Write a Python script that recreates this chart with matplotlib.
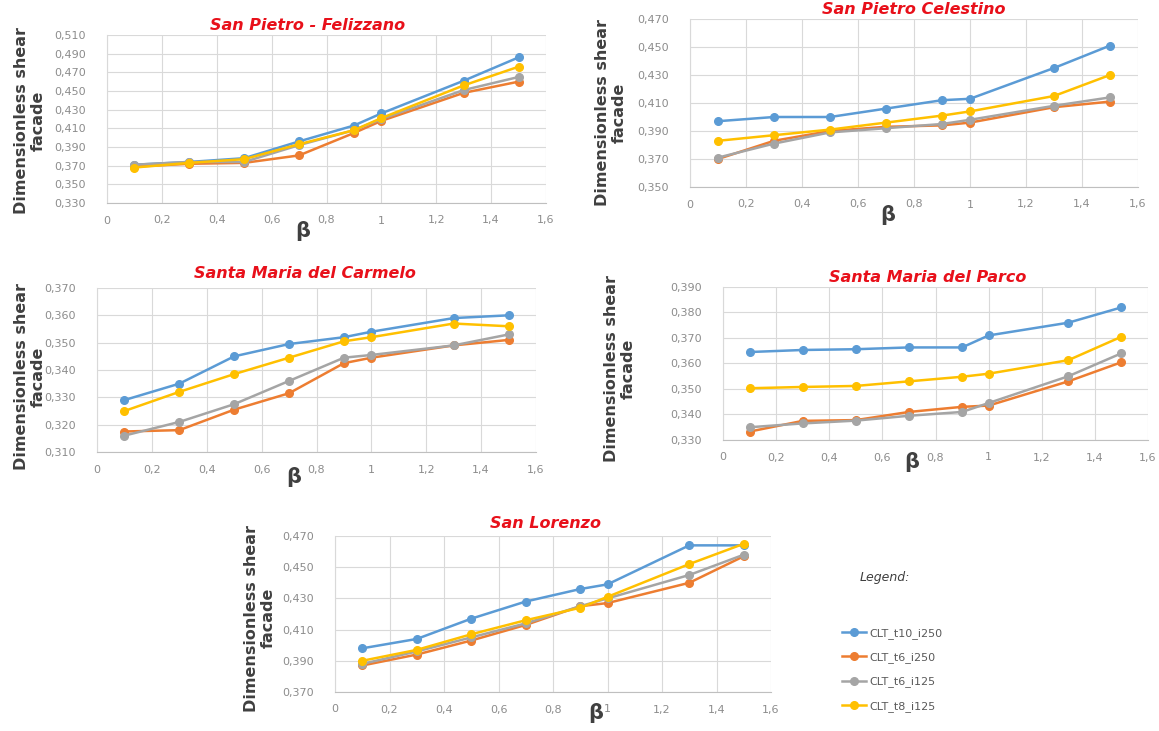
import matplotlib
matplotlib.use("Agg")
import matplotlib.pyplot as plt
import numpy as np
from matplotlib.ticker import FuncFormatter, MultipleLocator

beta = [0.1, 0.3, 0.5, 0.7, 0.9, 1.0, 1.3, 1.5]
series_names = ["CLT_t10_i250", "CLT_t6_i250", "CLT_t6_i125", "CLT_t8_i125"]
colors = ["#5B9BD5", "#ED7D31", "#A5A5A5", "#FFC000"]

# San Pietro - Felizzano
felizzano_t10_i250 = [0.371, 0.374, 0.378, 0.396, 0.413, 0.426, 0.461, 0.486]
felizzano_t6_i250 = [0.369, 0.372, 0.373, 0.381, 0.405, 0.418, 0.448, 0.460]
felizzano_t6_i125 = [0.371, 0.374, 0.374, 0.392, 0.408, 0.420, 0.451, 0.465]
felizzano_t8_i125 = [0.368, 0.373, 0.377, 0.393, 0.408, 0.421, 0.456, 0.476]

# San Pietro Celestino
celestino_t10_i250 = [0.397, 0.400, 0.400, 0.406, 0.412, 0.413, 0.435, 0.451]
celestino_t6_i250 = [0.370, 0.383, 0.390, 0.393, 0.394, 0.396, 0.407, 0.411]
celestino_t6_i125 = [0.371, 0.381, 0.389, 0.392, 0.395, 0.398, 0.408, 0.414]
celestino_t8_i125 = [0.383, 0.387, 0.391, 0.396, 0.401, 0.404, 0.415, 0.430]

# Santa Maria del Carmelo
carmelo_t10_i250 = [0.329, 0.335, 0.345, 0.3495, 0.352, 0.354, 0.359, 0.360]
carmelo_t6_i250 = [0.3175, 0.318, 0.3255, 0.3315, 0.3425, 0.3445, 0.349, 0.351]
carmelo_t6_i125 = [0.316, 0.321, 0.3275, 0.336, 0.3445, 0.3455, 0.349, 0.353]
carmelo_t8_i125 = [0.325, 0.332, 0.3385, 0.3445, 0.3505, 0.352, 0.357, 0.356]

# Santa Maria del Parco
parco_t10_i250 = [0.3645, 0.3653, 0.3656, 0.3663, 0.3663, 0.371, 0.376, 0.382]
parco_t6_i250 = [0.3333, 0.3375, 0.3378, 0.341, 0.343, 0.3435, 0.353, 0.3605]
parco_t6_i125 = [0.335, 0.3365, 0.3376, 0.3395, 0.341, 0.3445, 0.355, 0.364]
parco_t8_i125 = [0.3503, 0.3508, 0.3512, 0.353, 0.3548, 0.356, 0.3613, 0.3705]

# San Lorenzo
lorenzo_t10_i250 = [0.398, 0.404, 0.417, 0.428, 0.436, 0.439, 0.464, 0.464]
lorenzo_t6_i250 = [0.387, 0.394, 0.403, 0.413, 0.425, 0.427, 0.440, 0.457]
lorenzo_t6_i125 = [0.388, 0.396, 0.405, 0.414, 0.425, 0.430, 0.445, 0.458]
lorenzo_t8_i125 = [0.390, 0.397, 0.407, 0.416, 0.424, 0.431, 0.452, 0.465]

W, H = 1159, 731

def px_rect(x0, x1, y0, y1):  # pixel box -> figure fraction rect
    return [x0 / W, 1 - y1 / H, (x1 - x0) / W, (y1 - y0) / H]

panels = [
    # title, data, ylim, ystep, axes box (px), title xy (px), beta xy (px), ylabel xy (px)
    ("San Pietro - Felizzano",
     [felizzano_t10_i250, felizzano_t6_i250, felizzano_t6_i125, felizzano_t8_i125],
     (0.330, 0.510), 0.02, (107, 546, 35, 203), (308, 25), (303, 231), (30, 121)),
    ("San Pietro Celestino",
     [celestino_t10_i250, celestino_t6_i250, celestino_t6_i125, celestino_t8_i125],
     (0.350, 0.470), 0.02, (690, 1138, 19, 187), (914, 10), (888, 215), (611, 113)),
    ("Santa Maria del Carmelo",
     [carmelo_t10_i250, carmelo_t6_i250, carmelo_t6_i125, carmelo_t8_i125],
     (0.310, 0.370), 0.01, (97, 536, 288, 452), (305, 273), (294, 477), (30, 377)),
    ("Santa Maria del Parco",
     [parco_t10_i250, parco_t6_i250, parco_t6_i125, parco_t8_i125],
     (0.330, 0.390), 0.01, (723, 1148, 287, 440), (928, 277), (912, 462), (620, 369)),
    ("San Lorenzo",
     [lorenzo_t10_i250, lorenzo_t6_i250, lorenzo_t6_i125, lorenzo_t8_i125],
     (0.370, 0.470), 0.02, (335, 771, 536, 692), (545, 523), (596, 713), (260, 618)),
]

fig = plt.figure(figsize=(W / 100, H / 100), dpi=100)

handles = None
for title, data, ylim, ystep, box, txy, bxy, lxy in panels:
    ax = fig.add_axes(px_rect(*box))
    lines = []
    for vals, c, name in zip(data, colors, series_names):
        ln, = ax.plot(beta, vals, color=c, marker="o", markersize=5.5, linewidth=1.8, label=name)
        lines.append(ln)
    handles = lines
    ax.set_xlim(0, 1.6)
    ax.set_ylim(*ylim)
    ax.xaxis.set_major_locator(MultipleLocator(0.2))
    ax.set_yticks(np.arange(ylim[0], ylim[1] + ystep / 2, ystep))
    ax.xaxis.set_major_formatter(FuncFormatter(lambda v, p: "0" if abs(v) < 1e-9 else ("%g" % round(v, 1)).replace(".", ",")))
    ax.yaxis.set_major_formatter(FuncFormatter(lambda v, p: ("%.3f" % v).replace(".", ",")))
    ax.grid(True, color="#D9D9D9", linewidth=0.8)
    ax.set_axisbelow(True)
    for s in ax.spines.values():
        s.set_visible(False)
    ax.spines["left"].set_visible(True)
    ax.spines["left"].set_color("#D9D9D9")
    ax.spines["bottom"].set_visible(True)
    ax.spines["bottom"].set_color("#BFBFBF")
    ax.tick_params(length=0, labelsize=8, labelcolor="#8C8C8C")
    ax.tick_params(axis="x", pad=9)
    ax.tick_params(axis="y", pad=15)
    fig.text(txy[0] / W, 1 - txy[1] / H, title, color="#E8101A", fontsize=11.5, fontweight="bold",
             style="italic", ha="center", va="center")
    fig.text(bxy[0] / W, 1 - bxy[1] / H, "β", fontsize=15, fontweight="bold", color="#404040",
             ha="center", va="center")
    fig.text(lxy[0] / W, 1 - lxy[1] / H, "Dimensionless shear\nfacade", fontsize=11.5, fontweight="bold",
             color="#404040", linespacing=1.15, rotation=90, ha="center", va="center", multialignment="center")

fig.text(885 / W, 1 - 578 / H, "Legend:", fontsize=9, style="italic", color="#404040", ha="center", va="center")
fig.legend(handles, series_names, loc="upper left", bbox_to_anchor=(832 / W, 1 - 618 / H),
           frameon=False, fontsize=8, labelcolor="#595959", labelspacing=1.2, handlelength=2.2,
           handletextpad=0.3)

fig.savefig("out.png", dpi=100, facecolor="white")
